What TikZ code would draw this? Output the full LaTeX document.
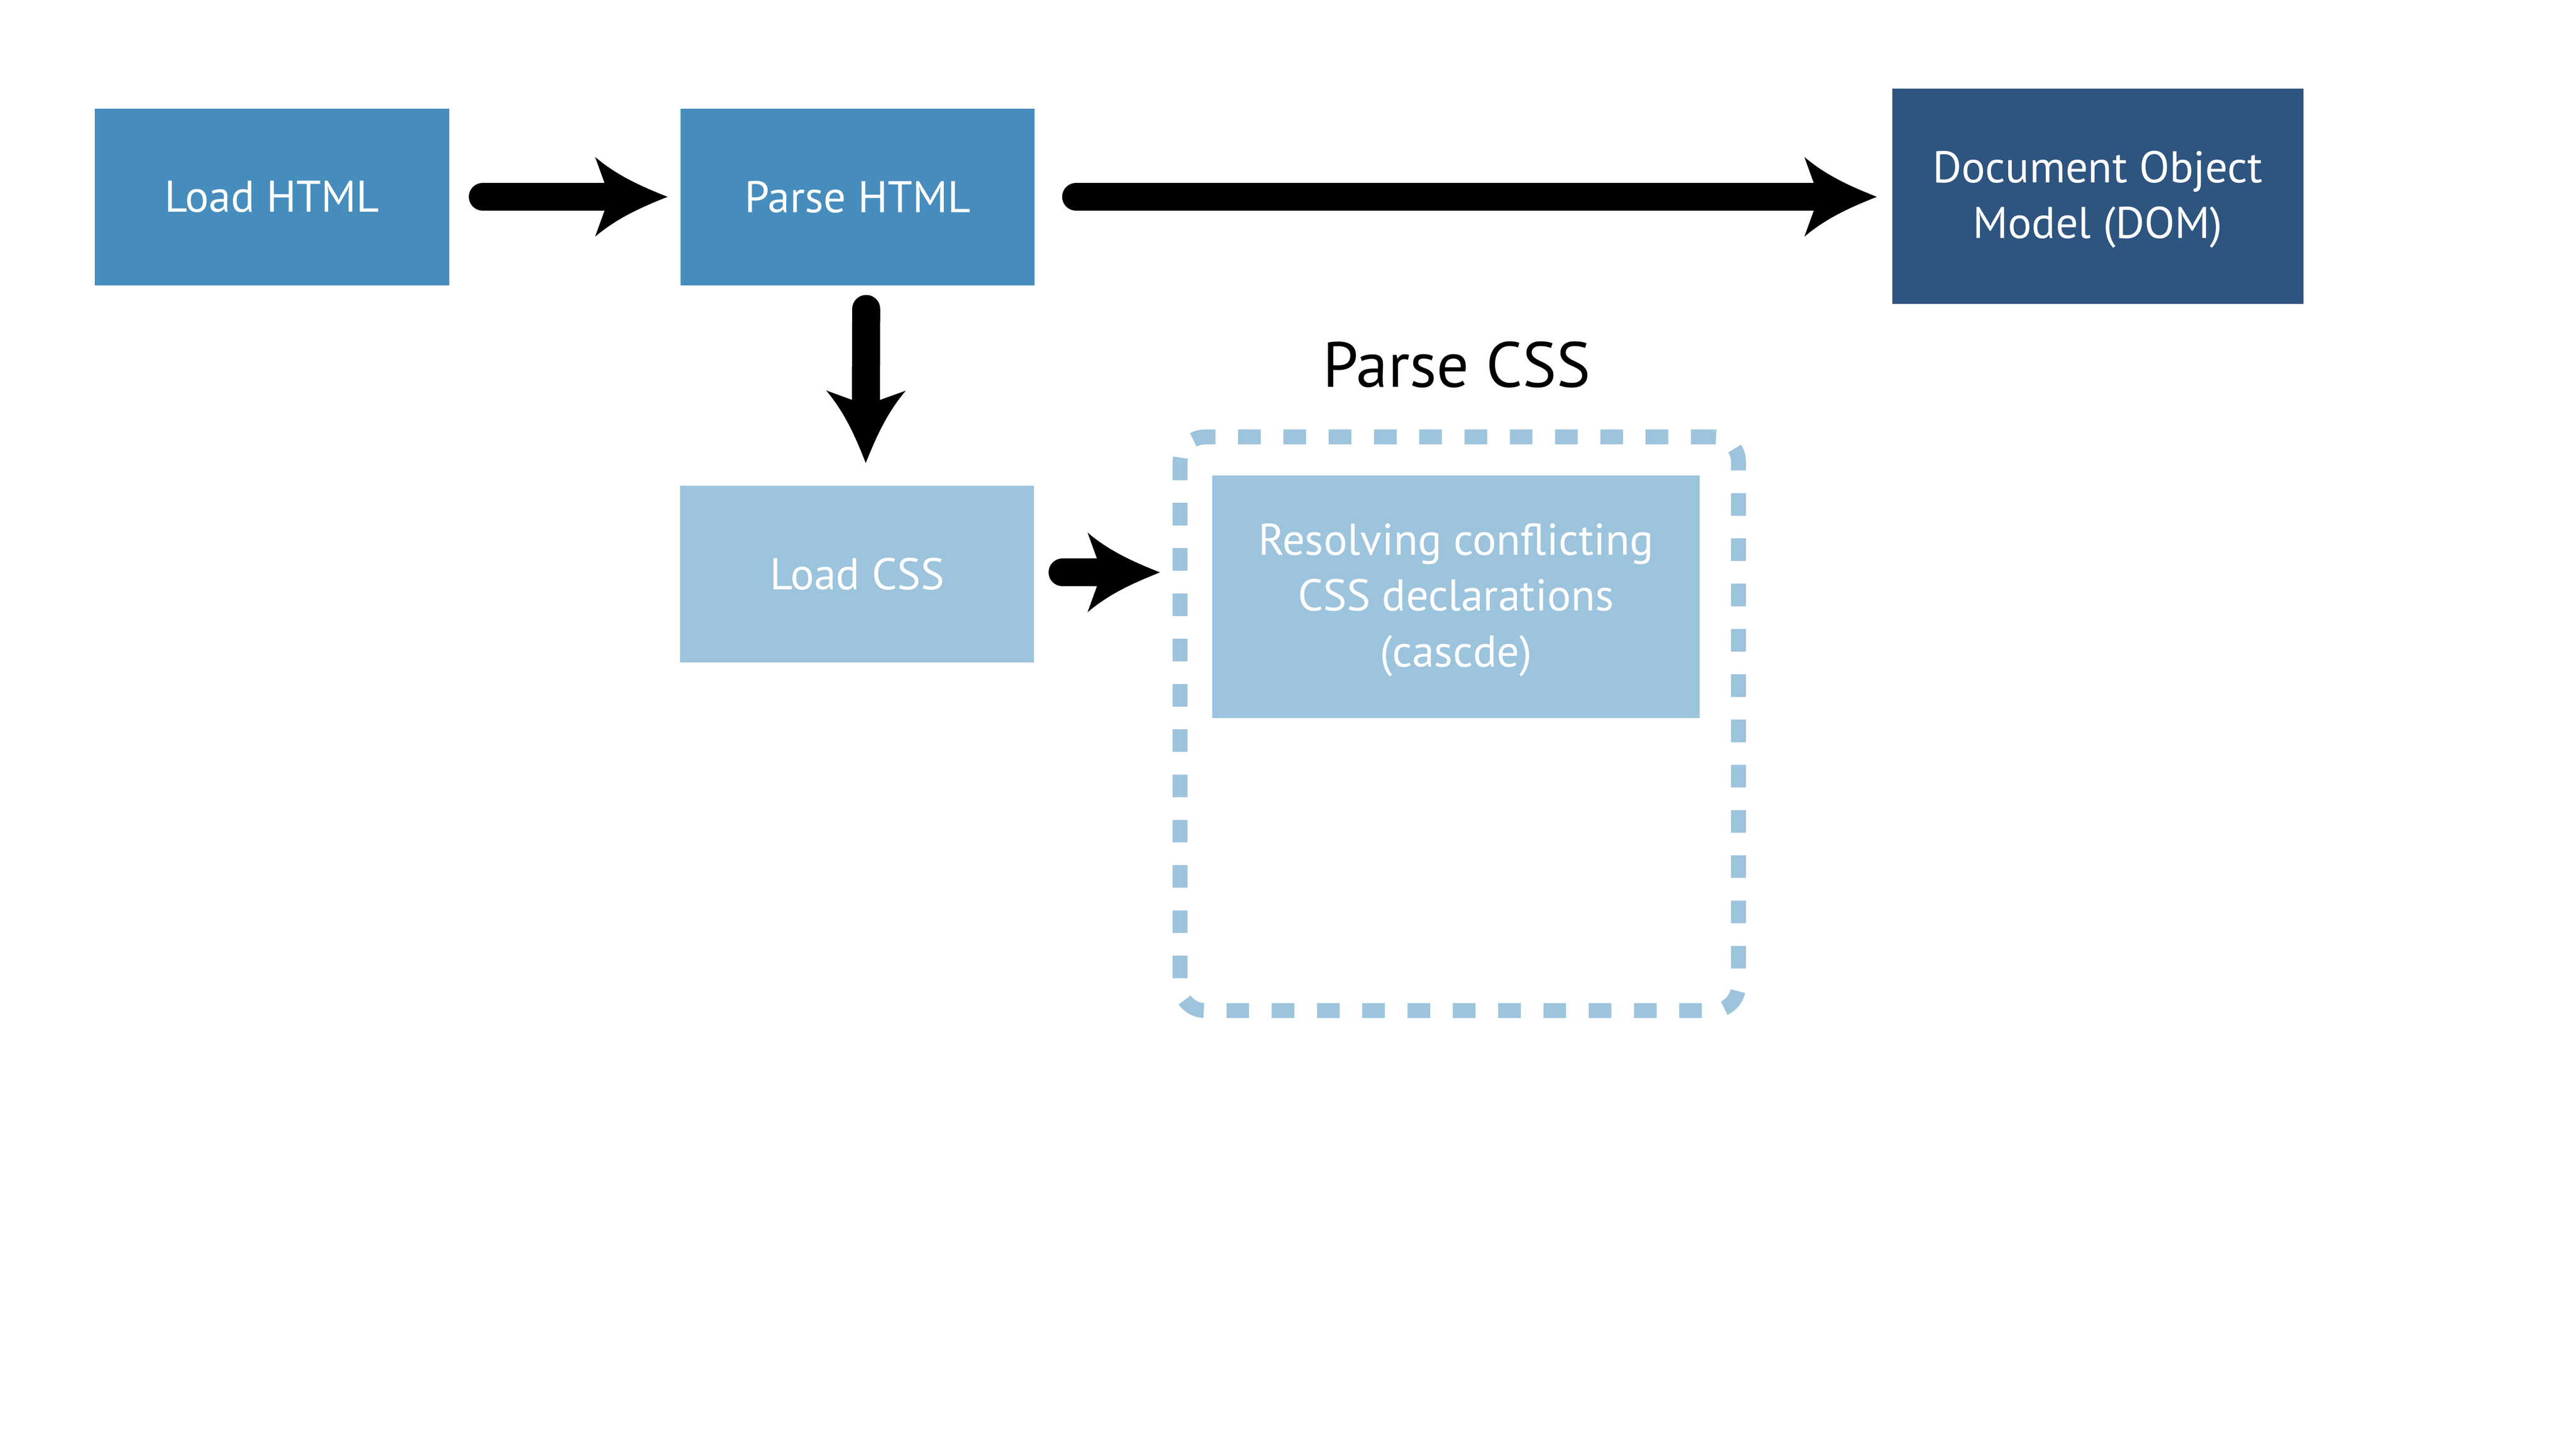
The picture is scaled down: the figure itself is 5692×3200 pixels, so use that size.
\documentclass[tikz,border=0pt]{standalone}
\usepackage{fontspec}
\setmainfont{PT Sans}
\usetikzlibrary{arrows.meta,calc}
\definecolor{midblue}{HTML}{468DBD}
\definecolor{darkblue}{HTML}{2E5580}
\definecolor{lightblue}{HTML}{9DC4DD}
\pgfdeclarearrow{
  name = Swoop,
  setup code = {
    \pgfarrowssettipend{0pt}
    \pgfarrowssetbackend{-1.6cm}
    \pgfarrowssetlineend{-1.3cm}
    \pgfarrowsupperhullpoint{-1.6cm}{0.88cm}
    \pgfarrowsupperhullpoint{0pt}{0pt}
  },
  drawing code = {
    \pgfpathmoveto{\pgfpointorigin}
    \pgfpathcurveto{\pgfpoint{-0.55cm}{0.22cm}}{\pgfpoint{-1.1cm}{0.455cm}}{\pgfpoint{-1.6cm}{0.88cm}}
    \pgfpathlineto{\pgfpoint{-1.39cm}{0.3cm}}
    \pgfpathlineto{\pgfpoint{-1.3cm}{0cm}}
    \pgfpathlineto{\pgfpoint{-1.39cm}{-0.3cm}}
    \pgfpathlineto{\pgfpoint{-1.6cm}{-0.88cm}}
    \pgfpathcurveto{\pgfpoint{-1.1cm}{-0.455cm}}{\pgfpoint{-0.55cm}{-0.22cm}}{\pgfpointorigin}
    \pgfpathclose
    \pgfusepathqfill
  }
}
\tikzset{
  boxtext/.style={font=\fontsize{27.9pt}{35.2pt}\selectfont},
  box/.style={boxtext, inner sep=0pt, text=white, align=center,
    minimum width=7.82cm, minimum height=3.9cm},
  multi/.style={text depth=0.08cm},
  conn/.style={line width=0.62cm, line cap=round, -{Swoop}, black},
}
\begin{document}
\begin{tikzpicture}[x=0.01cm,y=-0.01cm]
\useasboundingbox (0,0) rectangle (5692,3200);
\fill[white] (0,0) rectangle (5692,3200);

\node[box, fill=midblue] (lh) at (601,435) {Load HTML};
\node[box, fill=midblue] (ph) at (1895,435) {Parse HTML};
\node[box, multi, fill=darkblue, minimum width=9.08cm, minimum height=4.76cm] (dom) at (4635,434) {Document Object\\Model (DOM)};
\node[box, fill=lightblue] (lc) at (1894,1269) {Load CSS};

\node[draw=lightblue, line width=0.33cm, dash pattern=on 0.5cm off 0.5cm, rounded corners=0.55cm,
  inner sep=0pt, minimum width=12.33cm, minimum height=12.67cm] (pc) at (3224.5,1599.5) {};
\node[box, multi, fill=lightblue, minimum width=10.76cm, minimum height=5.36cm] (res) at (3217,1319)
  {Resolving conflicting\\CSS declarations\\(cascde)};
\node[anchor=base, inner sep=0pt, font=\fontsize{40.2pt}{48pt}\selectfont] (pcl) at (3219,855) {Parse CSS};

\draw[conn] ($(lh.east)+(74,0)$) -- ($(ph.west)+(-28,0)$);
\draw[conn] ($(ph.east)+(91,0)$) -- ($(ph.east -| dom.west)+(-33,0)$);
\draw[conn] ($(ph.south)+(19,52)$) -- ($(lc.north)+(19,-50)$);
\draw[conn] ($(lc.east)+(62,-4)$) -- ($(lc.east -| pc.west)+(-28,-4)$);
\end{tikzpicture}
\end{document}
